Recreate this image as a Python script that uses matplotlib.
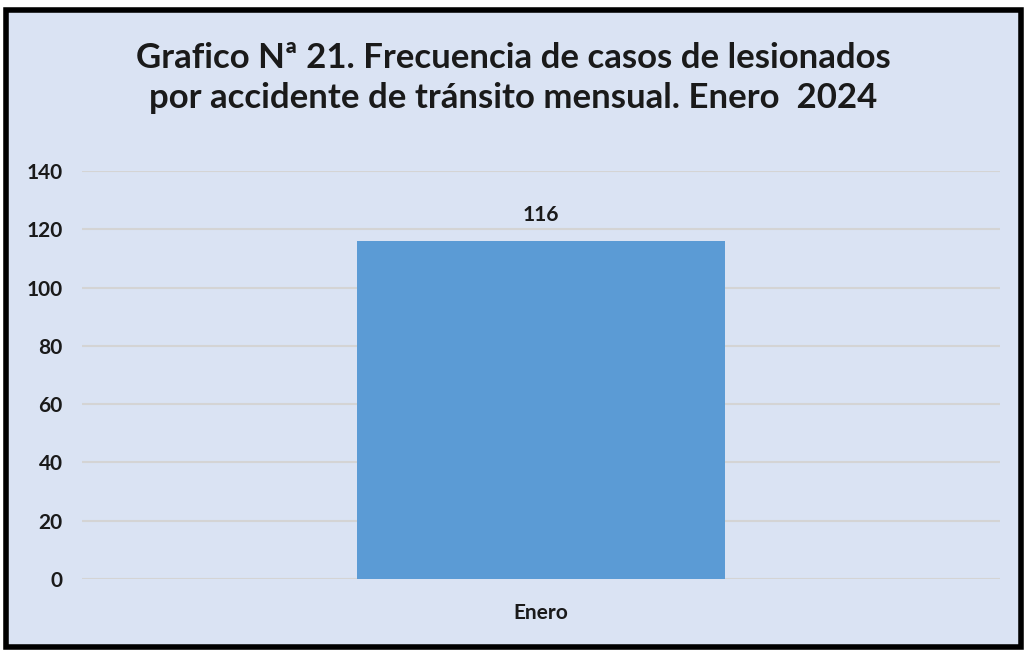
import matplotlib
matplotlib.use('Agg')
from matplotlib import pyplot as plt
from matplotlib.patches import Rectangle

# Datos
meses = ['Enero']
casos = [116]
yticks = [0, 20, 40, 60, 80, 100, 120, 140]
titulo = 'Grafico Nª 21. Frecuencia de casos de lesionados\npor accidente de tránsito mensual. Enero  2024'

plt.rcParams['font.family'] = ['Lato', 'DejaVu Sans']
fondo = '#DAE3F3'

fig = plt.figure(figsize=(10.26, 6.5), dpi=100, facecolor='white')
# marco negro con fondo azul claro
fig.patches.append(Rectangle((5.5/1026, 3.5/650), 1015/1026, 637/650, transform=fig.transFigure,
                             facecolor=fondo, edgecolor='black', linewidth=4, zorder=0))

ax = fig.add_axes([82/1026, 71/650, 918/1026, 408/650])
ax.set_zorder(2)
ax.patch.set_alpha(0)

x = list(range(len(meses)))
barras = ax.bar(x, casos, width=0.4, color='#5B9BD5', zorder=3)
for b, v in zip(barras, casos):
    ax.text(b.get_x() + b.get_width()/2, v + 5.5, str(v), ha='center', va='bottom',
            fontsize=15, fontweight='bold', color='#1a1a1a')

ax.set_xlim(-0.5, len(meses) - 0.5)
ax.set_ylim(0, 140)
ax.set_yticks(yticks)
ax.set_xticks(x)
ax.set_xticklabels(meses)
ax.yaxis.grid(True, color='#D4D4D4', linewidth=1.5, zorder=0)
ax.set_axisbelow(True)
ax.tick_params(length=0, labelsize=15, colors='#1a1a1a')
ax.tick_params(axis='x', pad=17)
ax.tick_params(axis='y', pad=14)
for lab in ax.get_xticklabels() + ax.get_yticklabels():
    lab.set_fontweight('bold')
for s in ax.spines.values():
    s.set_visible(False)

fig.text(0.5, 1 - 78/650, titulo, ha='center', va='center', fontsize=25,
         fontweight='bold', color='#1a1a1a', linespacing=1.3)

fig.savefig('out.png', dpi=100, facecolor='white')
